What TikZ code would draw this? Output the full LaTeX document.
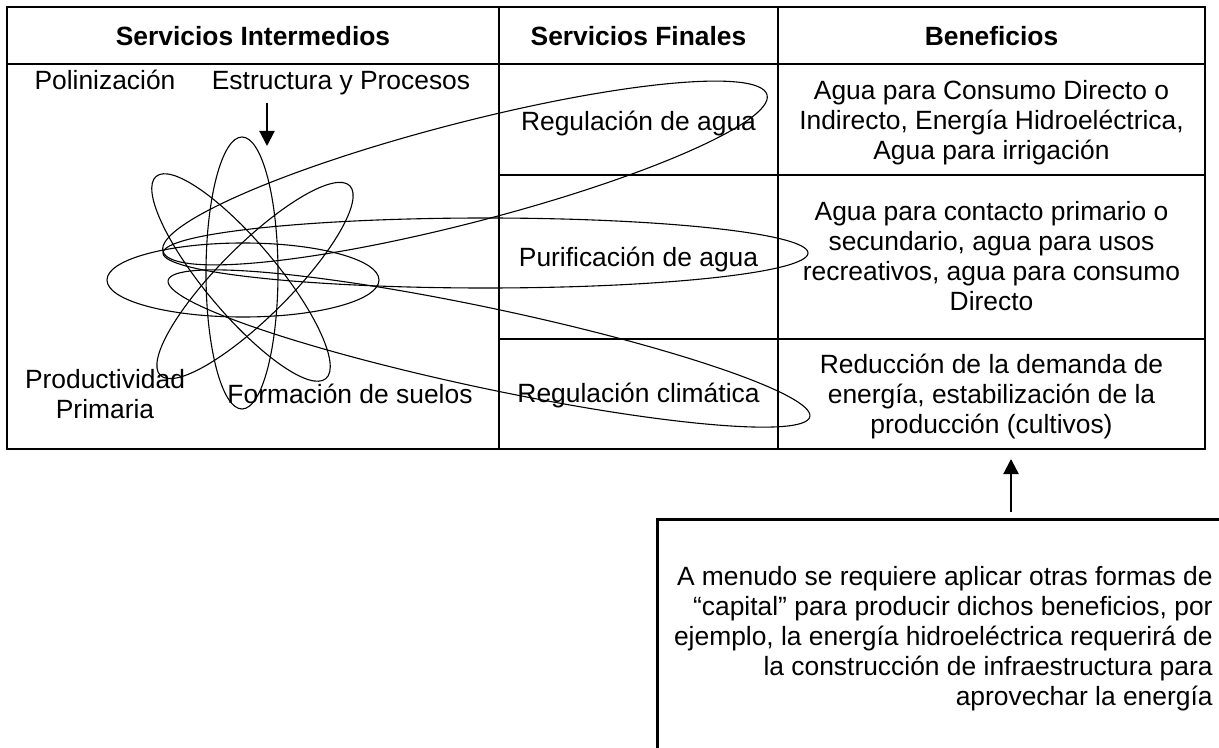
\documentclass[tikz,border=0pt]{standalone}
\usepackage{fontspec}
\setmainfont{Liberation Sans}
\usetikzlibrary{arrows.meta}
\begin{document}
\begin{tikzpicture}[x=0.5pt,y=-0.5pt,
  txt/.style={font=\fontsize{13.2}{15}\selectfont, inner sep=0pt},
  hdr/.style={font=\fontsize{13.2}{15}\selectfont\bfseries, inner sep=0pt, anchor=base},
  cell/.style={txt, align=center},
  grid/.style={line width=0.9pt},
  orbit/.style={line width=0.55pt},
  bigarrow/.style={line width=1.1pt, -{Triangle[width=7.5pt,length=7.5pt]}},
]
\useasboundingbox (0,0) rectangle (1219,748);
\clip (0,0) rectangle (1219,748);
% table
\draw[grid] (7,7) rectangle (1205,449);
\draw[grid] (7,64) -- (1205,64);
\draw[grid] (499,175) -- (1205,175);
\draw[grid] (499,339) -- (1205,339);
\draw[grid] (499,7) -- (499,449);
\draw[grid] (778,7) -- (778,449);
% headers
\node[hdr] (h1) at (253,45.5) {Servicios Intermedios};
\node[hdr] (h2) at (638.5,45.5) {Servicios Finales};
\node[hdr] (h3) at (991.5,45.5) {Beneficios};
% column 1 labels
\node[txt,anchor=base] (pol) at (105,90) {Polinización};
\node[txt,anchor=base] (est) at (341,90) {Estructura y Procesos};
\node[cell] (prod) at (105,394) {Productividad\\Primaria};
\node[txt,anchor=base] (form) at (350,403) {Formación de suelos};
% column 2
\node[txt,anchor=base] (rega) at (638.5,131) {Regulación de agua};
\node[txt,anchor=base] (pura) at (638.5,267) {Purificación de agua};
\node[txt,anchor=base] (regc) at (638.5,402) {Regulación climática};
% column 3
\node[cell] (b1) at (991.5,123) {Agua para Consumo Directo o\\Indirecto, Energía Hidroeléctrica,\\Agua para irrigación};
\node[cell] (b2) at (991.5,256.5) {Agua para contacto primario o\\secundario, agua para usos\\recreativos, agua para consumo\\Directo};
\node[cell] (b3) at (991.5,397) {Reducción de la demanda de\\energía, estabilización de la\\producción (cultivos)};
% orbits
\draw[orbit] (242,273) ellipse [x radius=36, y radius=136];
\draw[orbit] (243,280) ellipse [x radius=136, y radius=37];
\draw[orbit, rotate around={-50:(241,277.5)}] (241,277.5) ellipse [x radius=132, y radius=36];
\draw[orbit, rotate around={45:(255,280.5)}] (255,280.5) ellipse [x radius=134, y radius=36];
\draw[orbit, rotate around={14.5:(465,173)}] (465,173) ellipse [x radius=312, y radius=50];
\draw[orbit] (485.5,253) ellipse [x radius=322.5, y radius=35];
\draw[orbit, rotate around={-12:(489,348.5)}] (489,348.5) ellipse [x radius=328, y radius=40];
% arrows
\coordinate (dnA) at (267,103);
\coordinate (dnB) at (267,146);
\draw[bigarrow] (dnA) -- (dnB);
\coordinate (upA) at (1011,512);
\coordinate (upB) at (1011,459);
\draw[bigarrow] (upA) -- (upB);
% bottom box
\draw[line width=1.5pt] (657,519.5) rectangle (1260,800);
\node[txt, align=right, anchor=north east] (note) at (1213,566)
  {A menudo se requiere aplicar otras formas de\\``capital'' para producir dichos beneficios, por\\ejemplo, la energía hidroeléctrica requerirá de\\la construcción de infraestructura para\\aprovechar la energía};
\end{tikzpicture}
\end{document}
